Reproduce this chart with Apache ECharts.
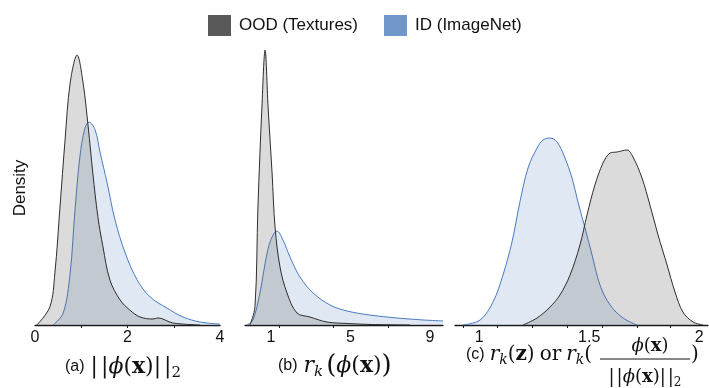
<!DOCTYPE html>
<html>
<head>
<meta charset="utf-8">
<script src="https://cdn.jsdelivr.net/npm/echarts@6/dist/echarts.min.js"></script>
<style>
  html, body { margin: 0; padding: 0; background: #fff; }
  #chart { width: 709px; height: 388px; }
</style>
</head>
<body>
<div id="chart"></div>
<script>
// Legend entries
const seriesNames = ['OOD (Textures)', 'ID (ImageNet)'];

// Panel (a): feature norm ||phi(x)||_2
const normX_ood = [0.04, 0.32, 0.43, 0.54, 0.65, 0.76, 0.91, 1.04, 1.15, 1.25, 1.36, 1.47, 1.62, 1.84, 2.05, 2.27, 2.55, 2.66, 2.98, 3.57];
const normY_ood = [0, 0.096, 0.279, 0.632, 0.991, 1.296, 1.446, 1.296, 1.061, 0.814, 0.579, 0.418, 0.241, 0.134, 0.080, 0.043, 0.032, 0.038, 0.011, 0];
const normX_id = [0.39, 0.61, 0.76, 0.86, 0.97, 1.08, 1.17, 1.30, 1.41, 1.56, 1.73, 1.95, 2.21, 2.49, 2.85, 3.20, 3.57, 4.0];
const normY_id = [0, 0.064, 0.279, 0.6, 0.9, 1.055, 1.087, 1.045, 0.921, 0.761, 0.563, 0.386, 0.241, 0.15, 0.091, 0.043, 0.016, 0.005];

// Panel (b): r_k(phi(x))
const rawX_ood = [-0.05, 0.20, 0.35, 0.55, 0.71, 0.86, 1.06, 1.21, 1.46, 1.81, 2.31, 2.97, 3.82, 4.83, 5.98, 8.0];
const rawY_ood = [0, 0.129, 0.843, 1.557, 1.964, 1.557, 1.086, 0.7, 0.414, 0.229, 0.086, 0.057, 0.021, 0.011, 0.004, 0];
const rawX_id = [-0.2, 0.10, 0.45, 0.81, 1.06, 1.31, 1.61, 1.96, 2.46, 3.12, 3.97, 4.83, 5.98, 7.34, 8.64, 9.65];
const rawY_id = [0, 0.036, 0.229, 0.514, 0.629, 0.671, 0.607, 0.486, 0.343, 0.229, 0.143, 0.1, 0.071, 0.05, 0.036, 0.029];

// Panel (c): r_k(z) on normalized features
const nrmX_ood = [1.199, 1.263, 1.322, 1.367, 1.413, 1.458, 1.49, 1.526, 1.563, 1.595, 1.626, 1.672, 1.699, 1.74, 1.776, 1.813, 1.854, 1.89, 1.926, 1.972, 2.017];
const nrmY_ood = [0, 0.125, 0.321, 0.536, 0.893, 1.429, 1.964, 2.5, 2.893, 3.071, 3.089, 3.125, 3.0, 2.625, 2.143, 1.607, 1.071, 0.589, 0.232, 0.054, 0];
const nrmX_id = [0.926, 1.004, 1.063, 1.108, 1.149, 1.185, 1.222, 1.263, 1.29, 1.322, 1.354, 1.39, 1.422, 1.449, 1.481, 1.513, 1.549, 1.595, 1.654, 1.717];
const nrmY_id = [0, 0.089, 0.411, 0.893, 1.482, 2.196, 2.804, 3.161, 3.304, 3.339, 3.268, 2.982, 2.625, 2.196, 1.732, 1.25, 0.714, 0.357, 0.125, 0];

// Tick labels and tick marks per panel
const labelsA = [0, 2, 4];
const ticksA = [1, 2, 3];
const labelsB = [1, 5, 9];
const ticksB = [1.4, 4.15, 6.9];
const labelsC = [1, 1.5, 2];
const ticksC = [0.926, 1.08, 1.24, 1.40, 1.558, 1.717, 1.867];

const pairs = (xs, ys) => xs.map((x, i) => [x, ys[i]]);

const OOD_SWATCH = '#595959';
const ID_SWATCH = '#6f98c8';
const OOD_LINE = '#2e2e2e';
const ID_LINE = '#4a7bc0';
const OOD_FILL = 'rgba(90,90,90,0.31)';
const ID_FILL = 'rgba(111,152,200,0.32)';
const SANS = 'Liberation Sans';
const SERIF = 'DejaVu Serif';

const grids = [
  { left: 35, width: 185, top: 45, height: 280 },
  { left: 245, width: 198, top: 45, height: 280 },
  { left: 455, width: 253, top: 45, height: 280 }
];

function xAxisFor(idx, min, max, labels, ticks) {
  return {
    type: 'value', gridIndex: idx, min: min, max: max,
    splitLine: { show: false },
    axisLine: { show: true, onZero: false, lineStyle: { color: '#1a1a1a', width: 1.3 } },
    axisTick: { show: true, length: 3, customValues: ticks, lineStyle: { color: '#1a1a1a', width: 1 } },
    axisLabel: {
      customValues: labels, margin: 5, color: '#111',
      fontFamily: SANS, fontSize: 16, showMinLabel: true, showMaxLabel: true,
      formatter: v => String(v)
    }
  };
}

function yAxisFor(idx, max) {
  return { type: 'value', gridIndex: idx, min: 0, max: max, show: false };
}

function density(name, idx, data, isOOD) {
  return {
    name: name, type: 'line', xAxisIndex: idx, yAxisIndex: idx,
    data: data, symbol: 'none', smooth: 0.35,
    itemStyle: { color: isOOD ? OOD_SWATCH : ID_SWATCH },
    lineStyle: { color: isOOD ? OOD_LINE : ID_LINE, width: 1 },
    areaStyle: { color: isOOD ? OOD_FILL : ID_FILL, origin: 'start' },
    z: isOOD ? 3 : 2, silent: true
  };
}

// Rich-text styles for the math captions
const mathRich = {
  s: { fontFamily: SANS, fontSize: 16, lineHeight: 28, fill: '#111' },
  m: { fontFamily: SERIF, fontSize: 22, lineHeight: 28, fill: '#111' },
  big: { fontFamily: SERIF, fontSize: 26, lineHeight: 28, fill: '#111' },
  i: { fontFamily: SERIF, fontSize: 22, fontStyle: 'italic', lineHeight: 28, fill: '#111' },
  b: { fontFamily: SERIF, fontSize: 22, fontWeight: 'bold', lineHeight: 28, fill: '#111' },
  sub: { fontFamily: SERIF, fontSize: 15, fontStyle: 'italic', lineHeight: 16, verticalAlign: 'bottom', fill: '#111' },
  subr: { fontFamily: SERIF, fontSize: 15, lineHeight: 16, verticalAlign: 'bottom', fill: '#111' },
  sp: { fontSize: 6, lineHeight: 28, width: 6 },
  th: { fontSize: 3, lineHeight: 28, width: 3 }
};

function scaledRich(k) {
  const out = {};
  Object.keys(mathRich).forEach(key => {
    const st = Object.assign({}, mathRich[key]);
    if (st.fontSize && key !== 's') st.fontSize = Math.round(st.fontSize * k);
    if (st.lineHeight) st.lineHeight = Math.round(st.lineHeight * k);
    if (st.width) st.width = Math.round(st.width * k);
    out[key] = st;
  });
  return out;
}

const option = {
  animation: false,
  backgroundColor: '#ffffff',
  legend: {
    data: [
      { name: seriesNames[0], itemStyle: { color: OOD_SWATCH, borderWidth: 0 } },
      { name: seriesNames[1], itemStyle: { color: ID_SWATCH, borderWidth: 0 } }
    ],
    icon: 'rect', left: 203, top: 10, itemWidth: 23, itemHeight: 21, itemGap: 26,
    textStyle: { fontFamily: SANS, fontSize: 17, color: '#111', padding: [0, 0, 0, 3] },
    selectedMode: false
  },
  grid: grids,
  xAxis: [
    xAxisFor(0, 0, 4, labelsA, ticksA),
    xAxisFor(1, -0.3, 9.65, labelsB, ticksB),
    xAxisFor(2, 0.89, 2.04, labelsC, ticksC)
  ],
  yAxis: [yAxisFor(0, 1.5), yAxisFor(1, 2.0), yAxisFor(2, 5.0)],
  series: [
    density(seriesNames[1], 0, pairs(normX_id, normY_id), false),
    density(seriesNames[0], 0, pairs(normX_ood, normY_ood), true),
    density(seriesNames[1], 1, pairs(rawX_id, rawY_id), false),
    density(seriesNames[0], 1, pairs(rawX_ood, rawY_ood), true),
    density(seriesNames[1], 2, pairs(nrmX_id, nrmY_id), false),
    density(seriesNames[0], 2, pairs(nrmX_ood, nrmY_ood), true)
  ],
  graphic: [
    {
      type: 'text', x: 20, y: 188, rotation: Math.PI / 2,
      style: { text: 'Density', fontFamily: SANS, fontSize: 17, fill: '#111', align: 'center', verticalAlign: 'middle' }
    },
    {
      type: 'text', x: 65, y: 367,
      style: {
        text: '{s|(a)}{sp| }{m||}{th| }{m||}{i|ϕ}{m|(}{b|x}{m|)}{m||}{th| }{m||}{subr|2}',
        rich: mathRich, verticalAlign: 'middle', align: 'left'
      }
    },
    {
      type: 'text', x: 278, y: 366,
      style: {
        text: '{s|(b)}{sp| }{i|r}{sub|k}{th| }{big|(}{i|ϕ}{m|(}{b|x}{m|)}{big|)}',
        rich: mathRich, verticalAlign: 'middle', align: 'left'
      }
    },
    {
      type: 'text', x: 466, y: 355,
      style: {
        text: '{s|(c)}{sp| }{i|r}{sub|k}{m|(}{b|z}{m|)}{sp| }{m|or}{sp| }{i|r}{sub|k}{m|(}',
        rich: scaledRich(0.9), verticalAlign: 'middle', align: 'left'
      }
    },
    {
      type: 'text', x: 650, y: 346,
      style: {
        text: '{i|ϕ}{m|(}{b|x}{m|)}',
        rich: scaledRich(0.82), verticalAlign: 'middle', align: 'center'
      }
    },
    {
      type: 'line', shape: { x1: 600, y1: 359, x2: 690, y2: 359 },
      style: { stroke: '#111', lineWidth: 1 }
    },
    {
      type: 'text', x: 645, y: 377,
      style: {
        text: '{m||}{th| }{m||}{i|ϕ}{m|(}{b|x}{m|)}{m||}{th| }{m||}{subr|2}',
        rich: scaledRich(0.82), verticalAlign: 'middle', align: 'center'
      }
    },
    {
      type: 'text', x: 691, y: 355,
      style: {
        text: '{m|)}',
        rich: scaledRich(0.9), verticalAlign: 'middle', align: 'left'
      }
    }
  ]
};

const chart = echarts.init(document.getElementById('chart'), null, { renderer: 'canvas' });
chart.setOption(option);
</script>
</body>
</html>
